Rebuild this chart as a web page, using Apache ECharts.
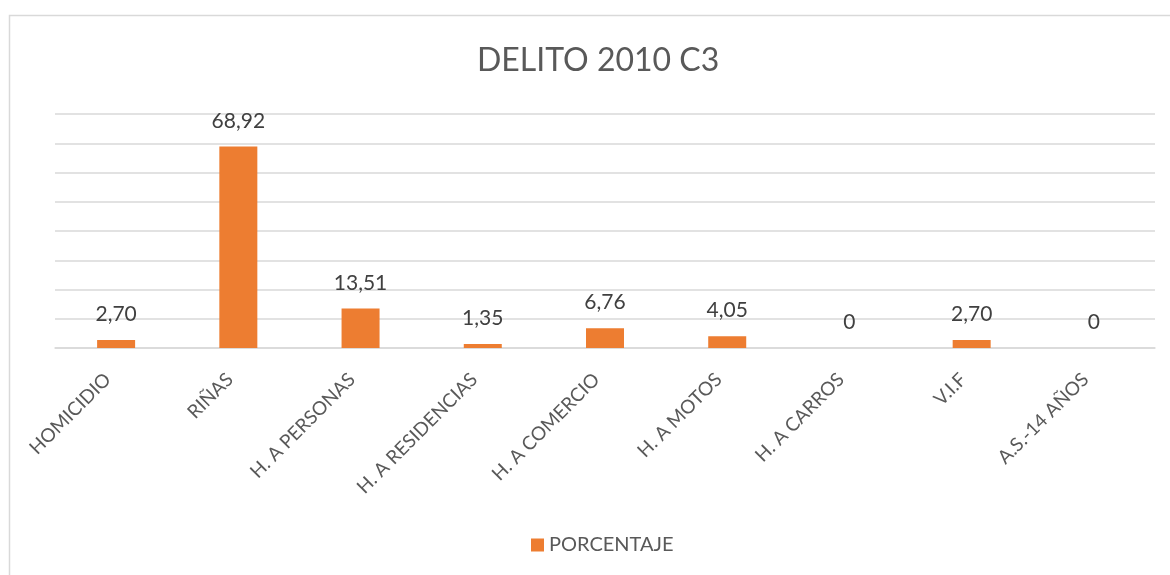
<!DOCTYPE html>
<html>
<head>
<meta charset="utf-8">
<script src="https://cdn.jsdelivr.net/npm/echarts@6/dist/echarts.min.js"></script>
<style>
html,body{margin:0;padding:0;background:#fff;}
#chart{width:1170px;height:575px;}
</style>
</head>
<body>
<div id="chart"></div>
<script>
const categories = ['HOMICIDIO', 'RIÑAS', 'H. A PERSONAS', 'H. A RESIDENCIAS', 'H. A COMERCIO', 'H. A MOTOS', 'H. A CARROS', 'V.I.F', 'A.S.-14 AÑOS'];
const porcentaje = [2.70, 68.92, 13.51, 1.35, 6.76, 4.05, 0, 2.70, 0];
const seriesName = 'PORCENTAJE';
const titleText = 'DELITO 2010 C3';

const FONT = 'Lato';
const chart = echarts.init(document.getElementById('chart'), null, {renderer: 'canvas'});
chart.setOption({
  animation: false,
  backgroundColor: '#ffffff',
  textStyle: {fontFamily: FONT},
  graphic: [{
    type: 'rect',
    shape: {x: 9.5, y: 15.5, width: 1300, height: 700},
    style: {fill: 'none', stroke: '#d9d9d9', lineWidth: 1.5},
    silent: true, z: -10
  }],
  title: {
    text: titleText,
    left: 472,
    top: 40,
    textStyle: {fontFamily: FONT, fontSize: 32, fontWeight: 'normal', color: '#595959'}
  },
  legend: {
    bottom: 15,
    left: 526,
    itemWidth: 13,
    itemHeight: 13,
    itemGap: 6,
    icon: 'rect',
    textStyle: {fontFamily: FONT, fontSize: 20, color: '#595959'},
    data: [seriesName]
  },
  grid: {left: 55, right: 15, top: 114, bottom: 227, containLabel: false},
  xAxis: {
    type: 'category',
    data: categories,
    axisLine: {show: true, lineStyle: {color: '#d9d9d9', width: 1.5}},
    axisTick: {show: false},
    axisLabel: {
      rotate: 45,
      interval: 0,
      margin: 20,
      padding: [0, 12, 0, 0],
      fontFamily: FONT,
      fontSize: 19,
      color: '#595959'
    }
  },
  yAxis: {
    type: 'value',
    min: 0,
    max: 80,
    interval: 10,
    axisLabel: {show: false},
    axisLine: {show: false},
    axisTick: {show: false},
    splitLine: {lineStyle: {color: '#d9d9d9', width: 1.5}}
  },
  series: [{
    name: seriesName,
    type: 'bar',
    data: porcentaje,
    barWidth: 38,
    itemStyle: {color: '#ED7D31'},
    label: {
      show: true,
      position: 'top',
      distance: 15,
      fontFamily: FONT,
      fontSize: 21,
      color: '#404040',
      formatter: p => p.value === 0 ? '0' : p.value.toFixed(2).replace('.', ',')
    }
  }]
});
</script>
</body>
</html>
